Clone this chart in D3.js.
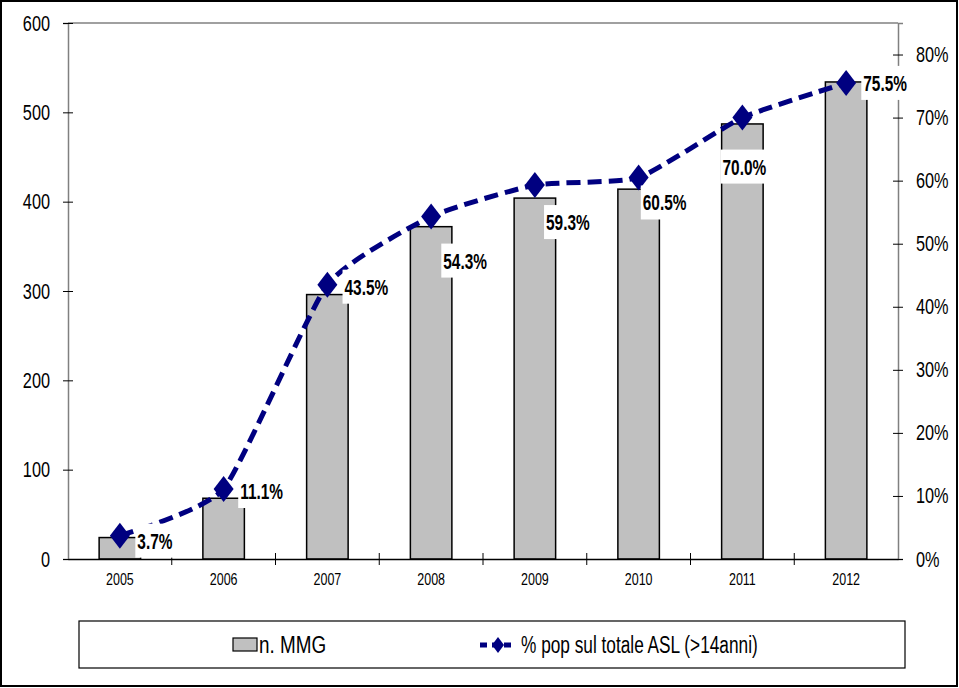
<!DOCTYPE html>
<html><head><meta charset="utf-8">
<script src="https://cdn.jsdelivr.net/npm/d3@7/dist/d3.min.js"></script>
<style>
body{margin:0;background:#fff}
text{font-family:"Liberation Sans Narrow","Arial Narrow","Liberation Sans",Arial,sans-serif;fill:#000}
</style>
</head><body>
<svg id="c" width="959" height="688"></svg>
<script>
// ---- data ----
const years = ["2005","2006","2007","2008","2009","2010","2011","2012"];
const mmgCount = [24, 68, 296, 372, 404, 414, 487, 534];
const pctPop = [0.037, 0.111, 0.435, 0.543, 0.593, 0.605, 0.700, 0.755];
const leftTicks = [0, 100, 200, 300, 400, 500, 600];
const rightTicks = [0, 0.1, 0.2, 0.3, 0.4, 0.5, 0.6, 0.7, 0.8];
const seriesNames = ["n. MMG", "% pop sul totale ASL (>14anni)"];
// label placement (offset of label centre from its point)
const labelOffsets = [[35,5],[38,2],[39,2],[34,44],[33,37],[26,25],[2,49],[39,0]];

// ---- layout ----
const svg = d3.select("#c");
const L = 68, R = 898, T = 23, B = 559;
const navy = "#000080";

// condense text horizontally (reference uses a narrow face)
function squeeze(sel, k){
  sel.each(function(){
    const w = this.getComputedTextLength();
    d3.select(this).attr("textLength", w*k).attr("lengthAdjust","spacingAndGlyphs");
  });
}

svg.append("rect").attr("x",1).attr("y",1).attr("width",956).attr("height",685)
  .attr("fill","#fff").attr("stroke","#000").attr("stroke-width",2);

const x = d3.scaleBand().domain(years).range([L, R]).paddingInner(0.6).paddingOuter(0.3);
const yL = d3.scaleLinear().domain([0, 600]).range([B, T]);
const yR = d3.scaleLinear().domain([0, 0.85]).range([B, T]);
const cx = d => x(d) + x.bandwidth()/2;

// plot top border
svg.append("line").attr("x1",L).attr("x2",R).attr("y1",T).attr("y2",T)
  .attr("stroke","#808080").attr("stroke-width",1.5);

// left axis
const gl = svg.append("g").attr("transform",`translate(${L},0)`)
  .call(d3.axisLeft(yL).tickValues(leftTicks).tickSize(5).tickPadding(13).tickFormat(d3.format("d")));
gl.select(".domain").attr("stroke","#808080").attr("stroke-width",1.5);
gl.selectAll(".tick line").attr("x1",5).attr("x2",-5).attr("stroke","#000");
gl.selectAll("text").attr("font-size",22).attr("font-family",null).call(squeeze,0.74);

// right axis
const gr = svg.append("g").attr("transform",`translate(${R},0)`)
  .call(d3.axisRight(yR).tickValues(rightTicks).tickSize(5).tickPadding(13).tickFormat(d3.format(".0%")));
gr.select(".domain").attr("stroke","#808080").attr("stroke-width",1.5);
gr.selectAll(".tick line").attr("x1",-5).attr("x2",5).attr("stroke","#000");
gr.selectAll("text").attr("font-size",22).attr("font-family",null).call(squeeze,0.74);

// bars
svg.append("g").selectAll("rect").data(years).join("rect")
  .attr("x", d => x(d)).attr("width", x.bandwidth())
  .attr("y", (d,i) => yL(mmgCount[i])).attr("height", (d,i) => B - yL(mmgCount[i]))
  .attr("fill","#C0C0C0").attr("stroke","#000").attr("stroke-width",1.5);

// x axis
const gx = svg.append("g").attr("transform",`translate(0,${B})`)
  .call(d3.axisBottom(x).tickSize(0).tickPadding(15));
gx.select(".domain").attr("stroke","#000").attr("stroke-width",1.5);
gx.selectAll("text").attr("font-size",16).attr("font-family",null).call(squeeze,0.78);
svg.append("g").selectAll("line").data(d3.range(1, years.length)).join("line")
  .attr("x1", i => L + i*x.step()).attr("x2", i => L + i*x.step())
  .attr("y1", B-6).attr("y2", B+6).attr("stroke","#000").attr("stroke-width",1);

// line
const line = d3.line().x((d,i) => cx(years[i])).y(d => yR(d)).curve(d3.curveCardinal.tension(0.5));
svg.append("path").datum(pctPop).attr("d", line)
  .attr("fill","none").attr("stroke",navy).attr("stroke-width",5).attr("stroke-dasharray","14,7");

// markers
const diamond = (w,h) => `M0,${-h}L${w},0L0,${h}L${-w},0Z`;
svg.append("g").selectAll("path").data(pctPop).join("path")
  .attr("transform",(d,i)=>`translate(${cx(years[i])},${yR(d)})`)
  .attr("d", diamond(10,13)).attr("fill",navy);

// data labels
const lg = svg.append("g").selectAll("g").data(pctPop).join("g")
  .attr("transform",(d,i)=>`translate(${cx(years[i])+labelOffsets[i][0]},${yR(d)+labelOffsets[i][1]})`);
lg.append("text").attr("text-anchor","middle").attr("dy","0.36em")
  .attr("font-size",22).attr("font-weight","bold").text(d => d3.format(".1%")(d))
  .call(squeeze,0.7);
lg.each(function(){
  const g = d3.select(this); const t = g.select("text");
  const w = +t.attr("textLength");
  g.insert("rect","text").attr("x",-w/2-2).attr("y",-17).attr("width",w+4).attr("height",34).attr("fill","#fff");
});

// legend
svg.append("rect").attr("x",79).attr("y",621).attr("width",826).attr("height",47)
  .attr("fill","none").attr("stroke","#000").attr("stroke-width",1.2);
svg.append("rect").attr("x",233).attr("y",638).attr("width",24).attr("height",13)
  .attr("fill","#C0C0C0").attr("stroke","#000").attr("stroke-width",1.2);
svg.append("text").attr("x",259).attr("y",645).attr("dy","0.36em").attr("font-size",23).text(seriesNames[0]).call(squeeze,0.82);
svg.append("line").attr("x1",480).attr("x2",516).attr("y1",645).attr("y2",645)
  .attr("stroke",navy).attr("stroke-width",5).attr("stroke-dasharray","7,5");
svg.append("path").attr("transform","translate(498,645)").attr("d",diamond(6,8)).attr("fill",navy);
svg.append("text").attr("x",521).attr("y",645).attr("dy","0.36em").attr("font-size",23).text(seriesNames[1]).call(squeeze,0.75);
</script>
</body></html>
